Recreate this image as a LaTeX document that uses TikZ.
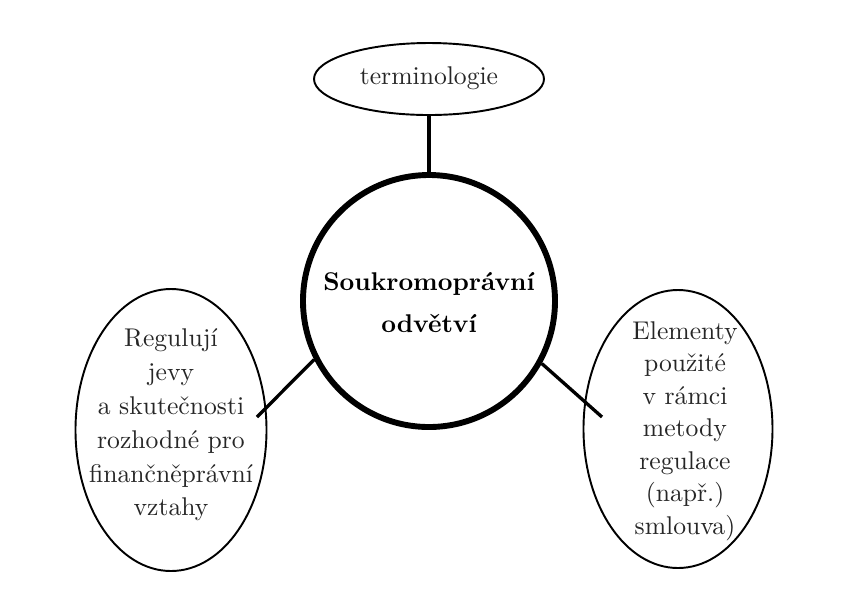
\documentclass[tikz,border=0pt]{standalone}
\usepackage{fontspec}
\usetikzlibrary{shapes.geometric}
\begin{document}
\begin{tikzpicture}[x=0.39pt,y=-0.39pt,
  bubble/.style={ellipse,draw,line width=0.75pt,inner sep=0pt},
  hub/.style={circle,draw,line width=2.3pt,inner sep=0pt,minimum size=252*0.39pt},
  link/.style={line width=1.3pt},
  lbl/.style={align=center,text=black!85,font=\fontsize{10}{13.2}\selectfont},
  hublbl/.style={align=center,font=\bfseries\fontsize{10}{16.4}\selectfont}]
  \useasboundingbox (0,0) rectangle (844,613);

  % central circle
  \node[hub] (c) at (429,301) {};
  \node[hublbl] (ct) at (429,303) {Soukromoprávní\\odvětví};

  % top bubble
  \node[bubble,minimum width=230*0.39pt,minimum height=72*0.39pt] (t) at (429,79) {};
  \node[lbl] (tt) at (429,78) {terminologie};

  % left bubble
  \node[bubble,minimum width=191*0.39pt,minimum height=282*0.39pt] (l) at (171,430) {};
  \node[lbl] (lt) at (171,425) {Regulují\\jevy\\a skutečnosti\\rozhodné pro\\finančněprávní\\vztahy};

  % right bubble
  \node[bubble,minimum width=189*0.39pt,minimum height=278*0.39pt] (r) at (678,429) {};
  \node[lbl,font=\fontsize{10}{12.7}\selectfont] (rt) at (685,431) {Elementy\\použité\\v rámci\\metody\\regulace\\(např.)\\smlouva)};

  % connectors
  \coordinate (le) at (257,417);
  \coordinate (re) at (602,417);
  \draw[link] (t.south) -- (c.north);
  \draw[link] (c.207.9) -- (le);
  \draw[link] (c.331.1) -- (re);
\end{tikzpicture}
\end{document}
